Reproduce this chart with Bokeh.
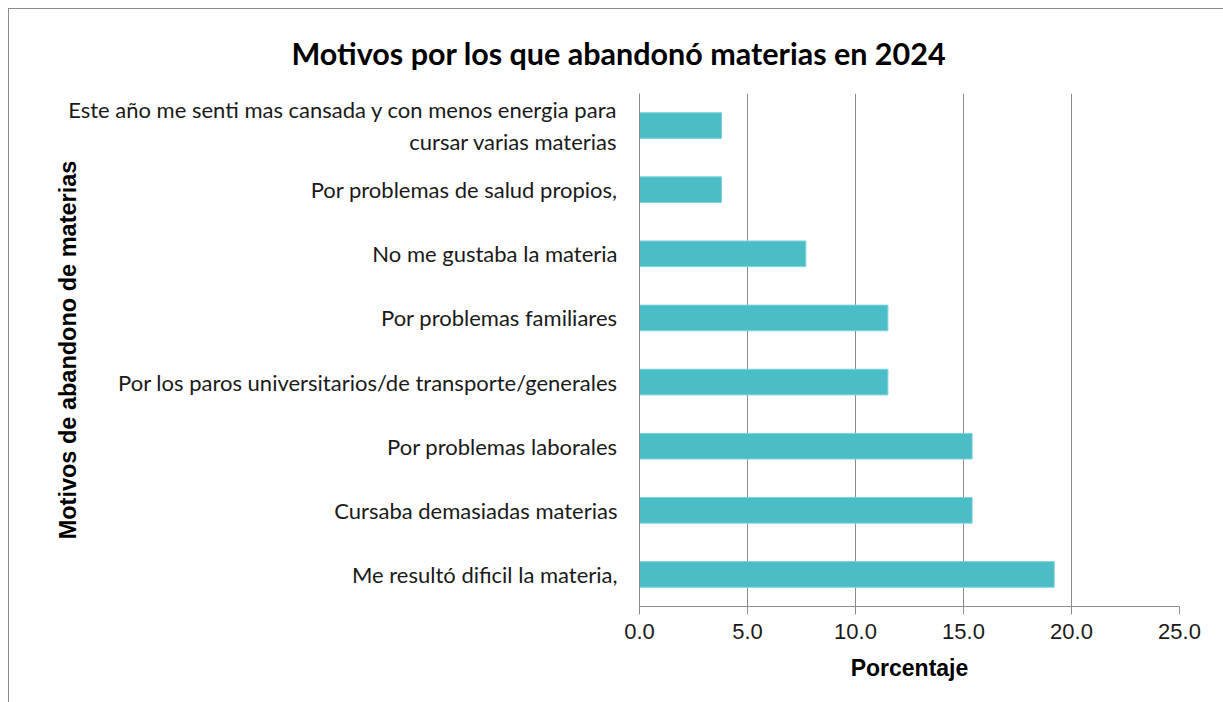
from bokeh.plotting import figure
from bokeh.models import FactorRange, Range1d, FixedTicker, NumeralTickFormatter
from bokeh.embed import file_html
from bokeh.resources import INLINE

title_text = "Motivos por los que abandonó materias en 2024"
categories = [
    "Este año me senti mas cansada y con menos energia para\ncursar varias materias",
    "Por problemas de salud propios,",
    "No me gustaba la materia",
    "Por problemas familiares",
    "Por los paros universitarios/de transporte/generales",
    "Por problemas laborales",
    "Cursaba demasiadas materias",
    "Me resultó dificil la materia,",
]
values = [3.8, 3.8, 7.7, 11.5, 11.5, 15.4, 15.4, 19.2]
x_ticks = [0, 5, 10, 15, 20, 25]

p = figure(
    y_range=FactorRange(factors=list(reversed(categories))),
    x_range=Range1d(0, 25),
    frame_width=540, frame_height=513,
    min_border_left=630, min_border_right=45,
    min_border_top=84, min_border_bottom=97,
    output_backend="svg", toolbar_location=None,
    title=title_text,
)
p.styles = {"border-top": "1px solid #8a8a8a", "border-left": "1px solid #8a8a8a",
            "margin-left": "8px", "margin-top": "8px"}

p.hbar(y=categories, right=values, height=0.4, fill_color="#4ABDC6",
       line_color="#7fd3d9", line_width=1)

p.title.text_font = "Lato"
p.title.text_font_size = "30.5px"
p.title.text_font_style = "bold"
p.title.text_color = "#000000"
p.title.align = "left"
p.title.offset = -348
p.title.standoff = 46

p.outline_line_color = None
p.ygrid.grid_line_color = None
p.xgrid.grid_line_color = "#8c8c8c"
p.xgrid.grid_line_width = 1
p.xaxis.ticker = FixedTicker(ticks=x_ticks)
p.xaxis.formatter = NumeralTickFormatter(format="0.0")
p.xaxis.axis_line_color = "#8c8c8c"
p.xaxis.major_tick_line_color = "#8c8c8c"
p.xaxis.major_tick_out = 8
p.xaxis.major_tick_in = 0
p.xaxis.minor_tick_line_color = None
p.xaxis.major_label_text_font = "Liberation Sans"
p.xaxis.major_label_text_font_size = "22px"
p.xaxis.major_label_text_color = "#1a1a1a"
p.xaxis.major_label_standoff = 9
p.xaxis.axis_label = "Porcentaje"
p.xaxis.axis_label_text_font = "Liberation Sans"
p.xaxis.axis_label_text_font_size = "23px"
p.xaxis.axis_label_text_font_style = "bold"
p.xaxis.axis_label_text_color = "#000000"
p.xaxis.axis_label_standoff = 13

p.yaxis.axis_line_color = "#8c8c8c"
p.yaxis.major_tick_line_color = None
p.yaxis.minor_tick_line_color = None
p.yaxis.major_label_text_font = "Lato"
p.yaxis.major_label_text_font_size = "22px"
p.yaxis.major_label_text_color = "#1a1a1a"
p.yaxis.major_label_standoff = 16
p.yaxis.axis_label = "Motivos de abandono de materias"
p.yaxis.axis_label_text_font = "Liberation Sans"
p.yaxis.axis_label_text_font_size = "23.5px"
p.yaxis.axis_label_text_font_style = "bold"
p.yaxis.axis_label_text_color = "#000000"
p.yaxis.axis_label_standoff = -16

open("out.html", "w").write(file_html(p, INLINE))
